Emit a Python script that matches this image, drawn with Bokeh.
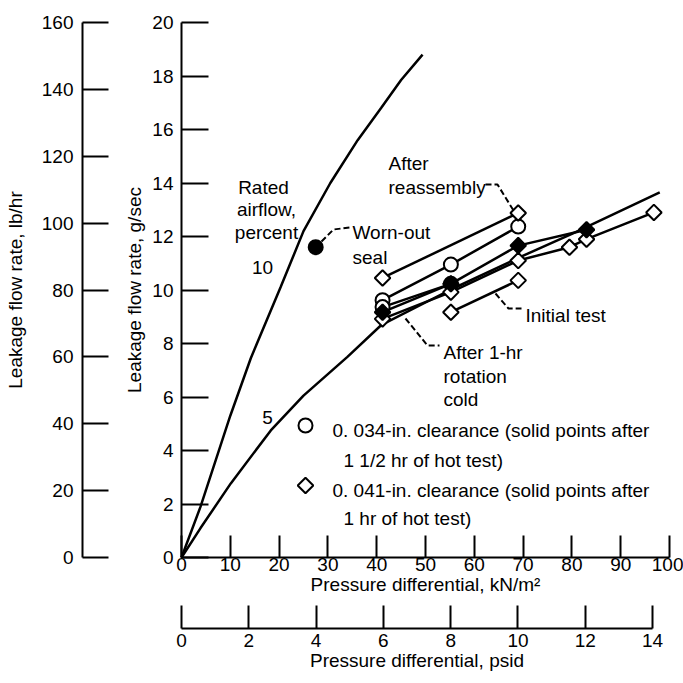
import numpy as np
from bokeh.plotting import figure
from bokeh.models import Range1d, LinearAxis, FixedTicker, Label
from bokeh.embed import file_html
from bokeh.resources import INLINE

# ---------------- data ----------------
kn_ticks = [0, 10, 20, 30, 40, 50, 60, 70, 80, 90, 100]
psi_ticks = [0, 2, 4, 6, 8, 10, 12, 14]
g_ticks = [0, 2, 4, 6, 8, 10, 12, 14, 16, 18, 20]
lb_ticks = [0, 20, 40, 60, 80, 100, 120, 140, 160]

rated10_x = [0, 3.9, 10.0, 14.2, 20.3, 25.0, 30.5, 36.1, 40.9, 45.0, 49.4]
rated10_y = [0, 1.9, 5.3, 7.45, 10.1, 12.2, 14.0, 15.6, 16.8, 17.85, 18.8]
rated5_x = [0, 3.9, 10.1, 18.3, 25.0, 34.0, 41.0, 55.0, 69.0, 80.0, 98.0]
rated5_y = [0, 1.1, 2.77, 4.75, 6.05, 7.5, 8.7, 10.0, 11.2, 12.1, 13.65]

reasm_x = [41.2, 69.0]
reasm_y = [10.45, 12.88]
circ_a_x = [41.2, 55.2, 69.0]
circ_a_y = [9.62, 10.95, 12.37]
circ_b_x = [41.2, 55.2]
circ_b_y = [9.36, 10.23]
circ_b_fill = ["white", "black"]
hot_x = [41.2, 55.2, 69.0, 83.0]
hot_y = [9.17, 10.23, 11.66, 12.25]
cold_x = [41.2, 55.2, 69.0, 79.5, 83.0, 96.8]
cold_y = [8.92, 9.92, 11.1, 11.6, 11.9, 12.9]
init_x = [55.2, 69.0]
init_y = [9.17, 10.36]
worn_x = [27.5]
worn_y = [11.6]

FONT = "Liberation Sans"
FS = "19px"
KN_PER_PSI = 6.89476
LB_PER_G = 8.0

# pixel helpers for annotation placement
def X(px):
    return (px - 181) / 4.88

def Y(py):
    return (557 - py) / 26.75

x0, x1 = X(0), X(683)
y0, y1 = Y(683), Y(0)

p = figure(width=683, height=683,
           x_range=Range1d(x0, x1), y_range=Range1d(y0, y1),
           output_backend="svg", toolbar_location=None,
           x_axis_location=None, y_axis_location=None,
           min_border_left=0, min_border_right=0,
           min_border_top=0, min_border_bottom=0)
p.outline_line_color = None
p.background_fill_color = "white"
p.border_fill_color = "white"
p.xgrid.visible = False
p.ygrid.visible = False

p.extra_y_ranges = {"lb": Range1d(y0 * LB_PER_G, y1 * LB_PER_G)}
p.extra_x_ranges = {"psi": Range1d(x0 / KN_PER_PSI, x1 / KN_PER_PSI)}


def style(ax, tick_in, std, lstd):
    ax.major_tick_in = tick_in
    ax.major_tick_out = 0
    ax.minor_tick_in = 0
    ax.minor_tick_out = 0
    ax.major_tick_line_width = 2
    ax.axis_line_width = 2
    ax.major_tick_line_color = "black"
    ax.axis_line_color = "black"
    ax.major_label_text_font = FONT
    ax.major_label_text_font_size = FS
    ax.major_label_text_color = "black"
    ax.axis_label_text_font = FONT
    ax.axis_label_text_font_size = FS
    ax.axis_label_text_font_style = "normal"
    ax.axis_label_text_color = "black"
    ax.major_label_standoff = std
    ax.axis_label_standoff = lstd


ax_lb = LinearAxis(y_range_name="lb", fixed_location=X(82), bounds=(0, 160),
                   ticker=FixedTicker(ticks=lb_ticks),
                   axis_label="Leakage flow rate, lb/hr")
style(ax_lb, 26, 9, 13)
p.add_layout(ax_lb, "left")

ax_g = LinearAxis(fixed_location=0, bounds=(0, 20), ticker=FixedTicker(ticks=g_ticks),
                  axis_label="Leakage flow rate, g/sec")
style(ax_g, 27, 8, 4)
p.add_layout(ax_g, "left")

ax_kn = LinearAxis(fixed_location=0, bounds=(0, 100), ticker=FixedTicker(ticks=kn_ticks),
                   axis_label="Pressure differential, kN/m\u00b2")
style(ax_kn, 22, 0, 0)
p.add_layout(ax_kn, "below")

ax_psi = LinearAxis(x_range_name="psi", fixed_location=Y(628), bounds=(0, 14),
                    ticker=FixedTicker(ticks=psi_ticks),
                    axis_label="Pressure differential, psid")
style(ax_psi, 23, 5, 0)
p.add_layout(ax_psi, "below")

# curves
p.line(rated10_x, rated10_y, line_color="black", line_width=2.5)
p.line(rated5_x, rated5_y, line_color="black", line_width=2.5)

# data lines
for xs, ys in [(reasm_x, reasm_y), (circ_a_x, circ_a_y), (circ_b_x, circ_b_y),
               (hot_x, hot_y), (cold_x, cold_y), (init_x, init_y)]:
    p.line(xs, ys, line_color="black", line_width=2.5)

DIA = dict(marker="square", angle=np.pi / 4, size=11, line_color="black", line_width=2)
CIR = dict(marker="circle", size=14, line_color="black", line_width=2)

p.scatter(circ_a_x, circ_a_y, fill_color="white", **CIR)
p.scatter(circ_b_x, circ_b_y, fill_color=circ_b_fill, **CIR)
p.scatter(reasm_x, reasm_y, fill_color="white", **DIA)
p.scatter(cold_x, cold_y, fill_color="white", **DIA)
p.scatter(init_x, init_y, fill_color="white", **DIA)
p.scatter(hot_x, hot_y, fill_color="black", **DIA)
p.scatter(worn_x, worn_y, fill_color="black", **CIR)

# legend symbols
p.scatter([X(305)], [Y(425)], fill_color="white", **CIR)
p.scatter([X(305)], [Y(485)], fill_color="white", **DIA)

# leader lines
DASH = dict(line_color="black", line_width=2, line_dash="6 3")
p.line([X(321), X(333), X(349)], [Y(241), Y(229), Y(227)], **DASH)
p.line([X(485), X(497), X(513)], [Y(184), Y(184), Y(210)], **DASH)
p.line([X(495), X(508), X(521)], [Y(293), Y(308), Y(308)], **DASH)
p.line([X(405), X(427), X(439)], [Y(318), Y(345), Y(345)], **DASH)

texts = [
    ("Rated", 263, 187, "center"),
    ("airflow,", 266, 209, "center"),
    ("percent", 266, 232, "center"),
    ("10", 262, 267, "center"),
    ("5", 267, 417, "center"),
    ("Worn-out", 352, 232, "left"),
    ("seal", 352, 257, "left"),
    ("After", 388, 163, "left"),
    ("reassembly", 388, 187, "left"),
    ("Initial test", 525, 315, "left"),
    ("After 1-hr", 443, 352, "left"),
    ("rotation", 443, 376, "left"),
    ("cold", 443, 399, "left"),
    ("0. 034-in. clearance (solid points after", 332, 430, "left"),
    ("1 1/2 hr of hot test)", 343, 460, "left"),
    ("0. 041-in. clearance (solid points after", 332, 490, "left"),
    ("1 hr of hot test)", 343, 518, "left"),
]
for t, px, py, al in texts:
    p.add_layout(Label(x=X(px), y=Y(py), text=t, text_font=FONT, text_font_size=FS,
                       text_align=al, text_baseline="alphabetic", text_color="black"))

open("out.html", "w").write(file_html(p, INLINE))
